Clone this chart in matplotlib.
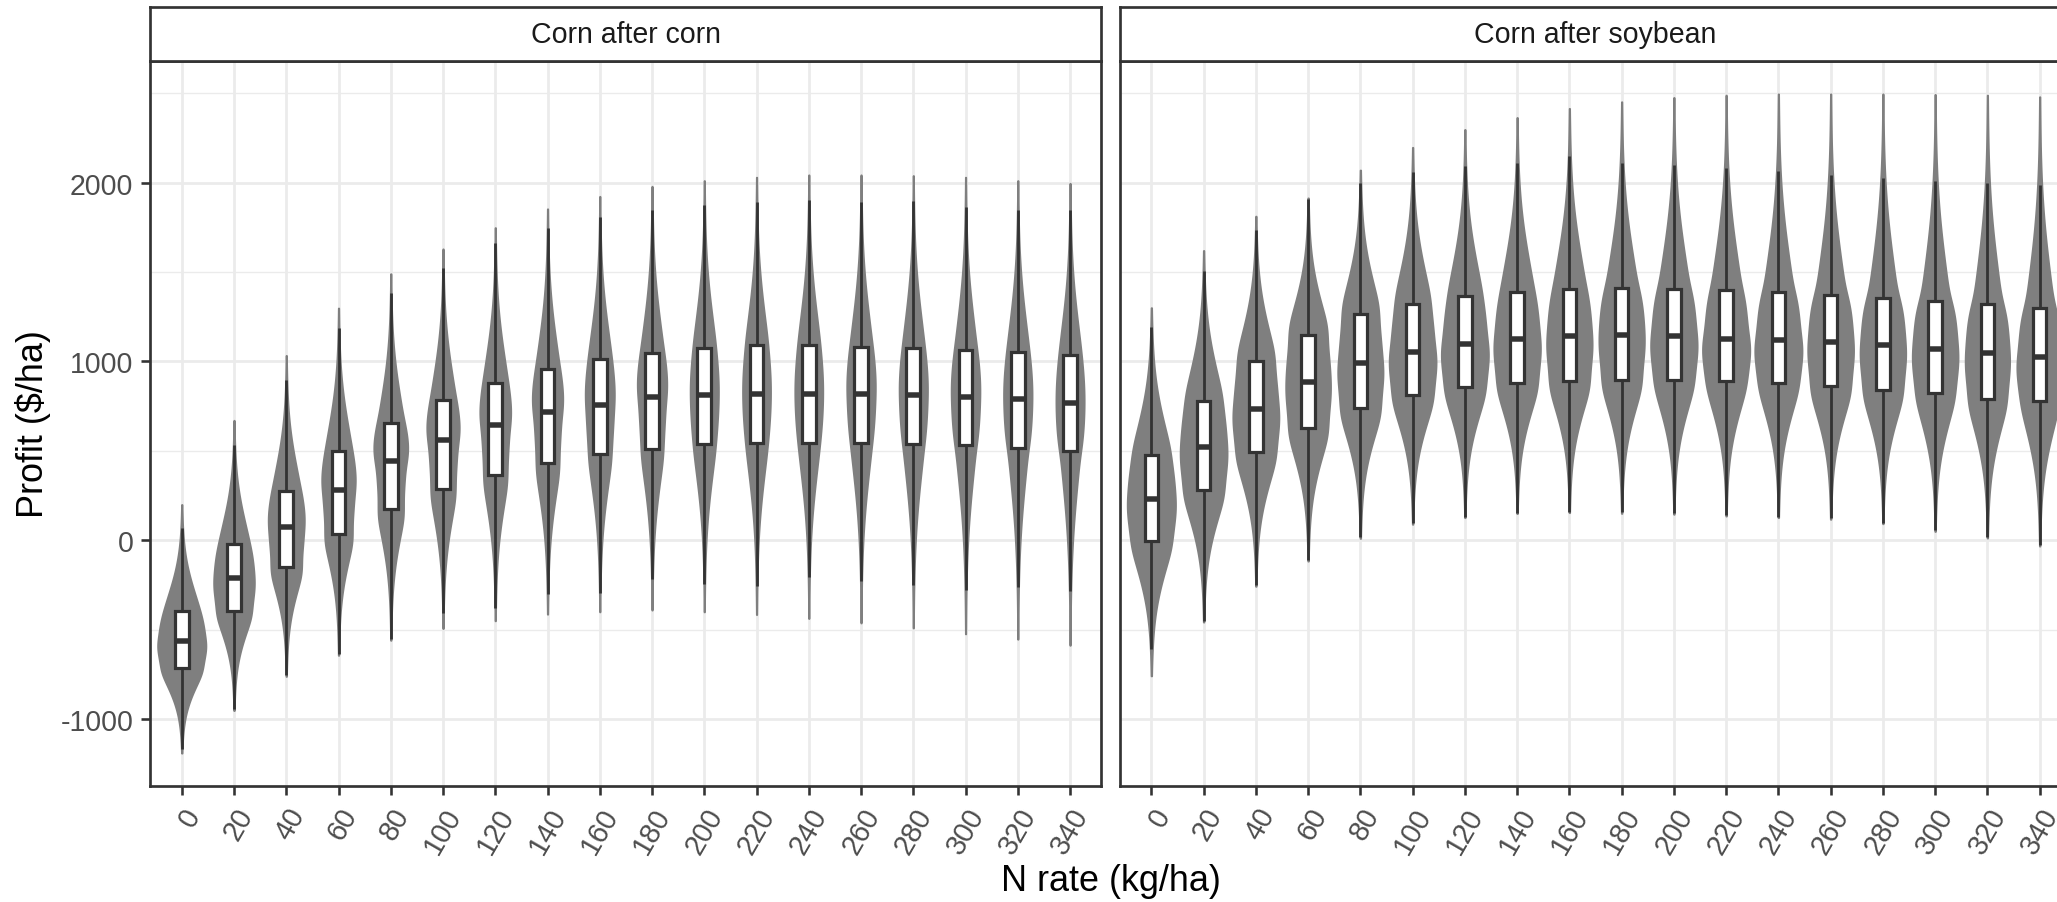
import numpy as np
import matplotlib
matplotlib.use("Agg")
import matplotlib.pyplot as plt

plt.rcParams['font.family'] = ['Liberation Sans', 'DejaVu Sans']
plt.rcParams['axes.unicode_minus'] = False

# ---------------- data ----------------
n_rates = [0, 20, 40, 60, 80, 100, 120, 140, 160, 180, 200, 220, 240, 260, 280, 300, 320, 340]
panels = ["Corn after corn", "Corn after soybean"]

# Corn after corn
cc_max = [199, 670, 1033, 1298, 1490, 1629, 1748, 1853, 1923, 1979, 2011, 2030, 2043, 2043, 2039, 2030, 2011, 1996]
cc_whi = [69, 531, 897, 1188, 1383, 1523, 1661, 1747, 1806, 1849, 1875, 1894, 1905, 1894, 1899, 1862, 1849, 1849]
cc_q3 = [-397, -23, 277, 498, 657, 782, 881, 955, 1011, 1048, 1076, 1089, 1089, 1080, 1074, 1061, 1052, 1037]
cc_med = [-562, -214, 72, 280, 445, 559, 646, 717, 758, 801, 810, 819, 819, 819, 810, 801, 788, 769]
cc_q1 = [-715, -397, -148, 33, 176, 287, 365, 430, 480, 512, 538, 546, 546, 546, 536, 531, 518, 499]
cc_wlo = [-1169, -944, -757, -639, -554, -410, -382, -303, -298, -217, -247, -255, -208, -227, -251, -279, -260, -283]
cc_min = [-1191, -953, -762, -644, -560, -494, -451, -414, -401, -391, -401, -416, -438, -463, -491, -524, -554, -588]

# Corn after soybean
cs_max = [1300, 1620, 1812, 1914, 2070, 2197, 2297, 2364, 2415, 2452, 2476, 2489, 2496, 2496, 2496, 2493, 2489, 2480]
cs_whi = [1192, 1505, 1735, 1908, 1996, 2057, 2094, 2109, 2147, 2109, 2098, 2081, 2063, 2043, 2026, 2011, 1998, 1986]
cs_q3 = [477, 779, 1002, 1149, 1263, 1322, 1363, 1387, 1406, 1410, 1406, 1400, 1387, 1373, 1356, 1337, 1319, 1300]
cs_med = [230, 523, 736, 885, 991, 1053, 1095, 1123, 1140, 1149, 1140, 1127, 1118, 1108, 1090, 1071, 1047, 1025]
cs_q1 = [-6, 281, 491, 630, 742, 814, 857, 881, 891, 898, 898, 891, 881, 861, 842, 824, 792, 779]
cs_wlo = [-609, -453, -253, -112, 15, 94, 131, 154, 159, 155, 150, 140, 131, 122, 97, 54, 17, -28]
cs_min = [-759, -458, -258, -117, 10, 89, 126, 149, 154, 150, 145, 135, 126, 117, 92, 49, 12, -33]

y_ticks = [-1000, 0, 1000, 2000]
x_title = "N rate (kg/ha)"
y_title = r"Profit (\$/ha)"

panel_data = [
    dict(mn=cc_min, wlo=cc_wlo, q1=cc_q1, med=cc_med, q3=cc_q3, whi=cc_whi, mx=cc_max),
    dict(mn=cs_min, wlo=cs_wlo, q1=cs_q1, med=cs_med, q3=cs_q3, whi=cs_whi, mx=cs_max),
]

# ---------------- helpers ----------------
W, H = 2057, 903
def pt(pxv):
    return pxv * 0.72

VIOLIN = "#7F7F7F"
DARK = "#333333"
GRID = "#EBEBEB"


def violin_profile(lo, q1, med, q3, hi, n=512, zt=3.1):
    """Density shape implied by the read quantiles (normal-score mapping)."""
    y = np.linspace(lo, hi, n)
    yk = [lo, q1, med, q3, hi]
    zk = [-zt, -0.6745, 0.0, 0.6745, zt]
    z = np.interp(y, yk, zk)
    dzdy = np.gradient(z, y)
    f = np.exp(-0.5 * z ** 2) / np.sqrt(2 * np.pi) * dzdy
    h = 0.12 * (q3 - q1)
    dy = y[1] - y[0]
    m = max(1, int(4 * h / dy))
    k = np.arange(-m, m + 1) * dy
    ker = np.exp(-0.5 * (k / h) ** 2)
    ker /= ker.sum()
    fs = np.convolve(f, ker, mode="same")
    return y, fs


fig = plt.figure(figsize=(W / 100, H / 100), dpi=100)

all_min = min(min(cc_min), min(cs_min))
all_max = max(max(cc_max), max(cs_max))
rng = all_max - all_min
ylim = (all_min - 0.05 * rng, all_max + 0.05 * rng)

panel_top, panel_bot = 62, 787
strip_top = 8
pw = 951
x0s = [150.4, 1120.0]
pos = np.arange(len(n_rates))

for p, (name, d, x0) in enumerate(zip(panels, panel_data, x0s)):
    ax = fig.add_axes([x0 / W, 1 - panel_bot / H, pw / W, (panel_bot - panel_top) / H])
    sax = fig.add_axes([x0 / W, 1 - panel_top / H, pw / W, (panel_top - strip_top) / H])

    # violins
    profiles = [violin_profile(d["mn"][i], d["q1"][i], d["med"][i], d["q3"][i], d["mx"][i])
                for i in range(len(n_rates))]
    fmax = max(f.max() for _, f in profiles)
    for i, (yy, ff) in enumerate(profiles):
        w = ff / fmax * 0.46
        ax.fill_betweenx(yy, pos[i] - w, pos[i] + w, facecolor=VIOLIN,
                         edgecolor=VIOLIN, linewidth=pt(2.0), zorder=2)

    stats = [dict(med=d["med"][i], q1=d["q1"][i], q3=d["q3"][i],
                  whislo=d["wlo"][i], whishi=d["whi"][i]) for i in range(len(n_rates))]
    ax.bxp(stats, positions=pos, widths=0.26, patch_artist=True,
           showfliers=False, showcaps=False, manage_ticks=False, zorder=3,
           boxprops=dict(facecolor="white", edgecolor=DARK, linewidth=pt(3.2)),
           medianprops=dict(color=DARK, linewidth=pt(5.5), solid_capstyle="butt"),
           whiskerprops=dict(color=DARK, linewidth=pt(2.8), solid_capstyle="butt"))

    ax.set_xlim(-0.6, len(n_rates) - 0.4)
    ax.set_ylim(*ylim)
    ax.set_yticks(y_ticks)
    ax.set_yticks([-500, 500, 1500, 2500], minor=True)
    ax.set_xticks(pos)
    ax.set_xticklabels([str(v) for v in n_rates], rotation=60, ha="right", va="top",
                       rotation_mode="anchor", fontsize=pt(28.5), color="#4D4D4D")
    ax.set_axisbelow(True)
    ax.grid(which="major", color=GRID, linewidth=pt(2.7))
    ax.grid(which="minor", axis="y", color=GRID, linewidth=pt(1.4))
    ax.tick_params(axis="both", which="major", length=pt(9), width=pt(2.6), color=DARK)
    ax.tick_params(axis="x", pad=pt(8))
    ax.tick_params(axis="y", which="major", pad=pt(8), labelsize=pt(28.5), labelcolor="#4D4D4D")
    ax.tick_params(which="minor", length=0)
    if p == 1:
        ax.tick_params(axis="y", which="both", left=False, labelleft=False)
    for s in ax.spines.values():
        s.set_color(DARK)
        s.set_linewidth(pt(2.7))

    # strip
    sax.set_xlim(0, 1)
    sax.set_ylim(0, 1)
    sax.set_xticks([])
    sax.set_yticks([])
    sax.set_facecolor("white")
    for s in sax.spines.values():
        s.set_color(DARK)
        s.set_linewidth(pt(2.7))
    cx = min(0.5, 0.5)
    sax.text(0.5, 0.5, name, ha="center", va="center", fontsize=pt(28.5), color="#1A1A1A")

fig.text((150.4 + 1120 + pw) / 2 / W, 1 - 899 / H, x_title, ha="center", va="bottom",
         fontsize=pt(36), color="black")
fig.text(33.5 / W, 1 - 424.5 / H, y_title, ha="center", va="center", rotation=90,
         fontsize=pt(36), color="black")

fig.savefig("out.png", dpi=100, facecolor="white")
